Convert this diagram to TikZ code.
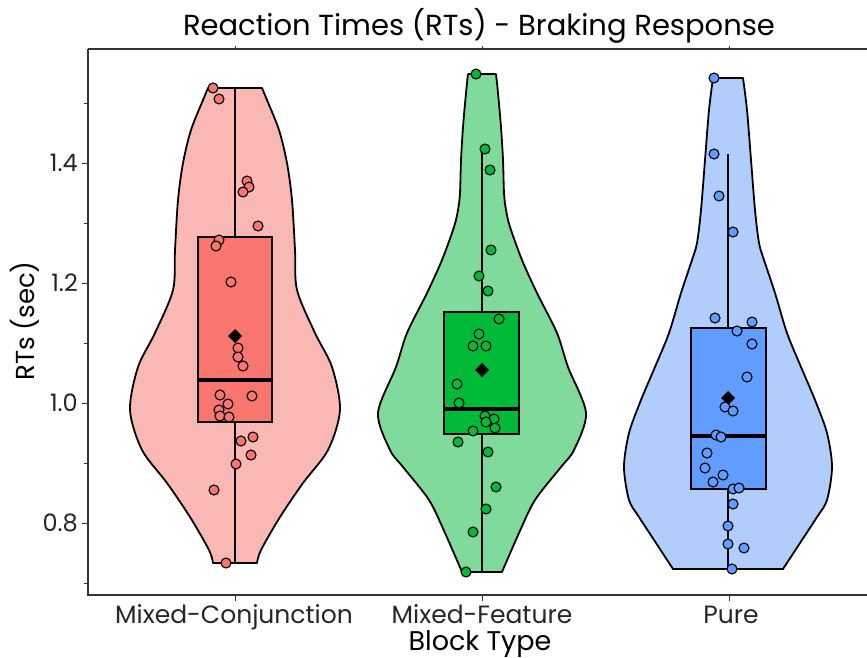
\documentclass[tikz,border=0pt]{standalone}
\usepackage{fontspec}
\setmainfont{Poppins}
\definecolor{redL}{HTML}{F9B8B3}
\definecolor{redD}{HTML}{F8766D}
\definecolor{grnL}{HTML}{80DA9B}
\definecolor{grnD}{HTML}{00BA38}
\definecolor{bluL}{HTML}{B0CDFB}
\definecolor{bluD}{HTML}{619CFF}
\definecolor{axisgray}{HTML}{333333}
\tikzset{
  violin/.style={draw=black, line width=1.8pt, line join=round},
  boxst/.style={draw=black, line width=1.8pt},
  whisk/.style={draw=black, line width=1.8pt},
  medline/.style={draw=black, line width=4pt},
  pt/.style={draw=black, line width=1.1pt},
  meanmk/.style={fill=black},
  axisline/.style={draw=axisgray, line width=1.4pt},
  tickst/.style={draw=axisgray, line width=1pt},
  yticklab/.style={font=\fontsize{24}{26}\selectfont, text=black!85, inner sep=0pt},
  xticklab/.style={font=\fontsize{25}{27}\selectfont, text=black!85, inner sep=0pt, anchor=base},
  axtitle/.style={font=\fontsize{27}{29}\selectfont, inner sep=0pt},
}
\begin{document}
\begin{tikzpicture}[x=1pt,y=-1pt]
\useasboundingbox[fill=white] (0,0) rectangle (867,658);

% ---------- violins ----------
\path[violin, fill=redL] plot[smooth] coordinates {(262,88) (267,100) (279,130) (287,163) (292,200) (295,250) (297,290) (315,333) (332,367) (340,410) (328,450) (303,483) (280,517) (261,550) (257,563)}
  -- plot[smooth] coordinates {(213,563) (209,550) (190,517) (167,483) (142,450) (130,410) (138,367) (155,333) (173,290) (175,250) (178,200) (183,163) (191,130) (203,100) (208,88)} -- cycle;

\path[violin, fill=grnL] plot[smooth] coordinates {(496,74) (498,93) (501,127) (503,160) (504,193) (506,210) (510,227) (522,260) (537,293) (557,333) (568,367) (586,413) (574,450) (561,467) (535,500) (519,533) (502,572)}
  -- plot[smooth] coordinates {(462,572) (445,533) (429,500) (403,467) (390,450) (378,413) (396,367) (407,333) (427,293) (442,260) (454,227) (458,210) (460,193) (461,160) (463,127) (466,93) (468,74)} -- cycle;

\path[violin, fill=bluL] plot[smooth] coordinates {(743,78) (747,110) (751,160) (755,210) (759,243) (764,260) (775,293) (787,333) (801,367) (815,400) (827,433) (832,467) (827,500) (817,517) (800,543) (783,569)}
  -- plot[smooth] coordinates {(673,569) (656,543) (639,517) (629,500) (624,467) (629,433) (641,400) (655,367) (669,333) (681,293) (692,260) (697,243) (701,210) (705,160) (709,110) (713,78)} -- cycle;

% ---------- boxes ----------
\draw[whisk] (235,88) -- (235,563);
\filldraw[boxst, fill=redD] (198,237) rectangle (272,422);
\draw[medline] (198,380) -- (272,380);
\draw[whisk] (482,150) -- (482,572);
\filldraw[boxst, fill=grnD] (444,312) rectangle (519,434);
\draw[medline] (444,409) -- (519,409);
\draw[whisk] (728,154) -- (728,569);
\filldraw[boxst, fill=bluD] (691,328) rectangle (766,489);
\draw[medline] (691,436) -- (766,436);

% ---------- means ----------
\fill[meanmk] (235,329) -- (242,336) -- (235,343) -- (228,336) -- cycle;
\fill[meanmk] (482,363) -- (489,370) -- (482,377) -- (475,370) -- cycle;
\fill[meanmk] (728,391) -- (735,398) -- (728,405) -- (721,398) -- cycle;

% ---------- points ----------
\foreach \x/\y in {213/88, 219/99, 247/181, 249/187, 243/192, 258/226, 219/240, 216/246, 231/282, 238/348, 238/357, 243/366, 220/395, 252/396, 228/404, 219/410, 220/416, 229/417, 241/441, 253/437, 251/455, 236/464, 214/490, 226/563}
  \filldraw[pt, fill=redD] (\x,\y) circle (5pt);
\foreach \x/\y in {476/74, 485/149, 490/170, 491/250, 479/276, 488/291, 499/319, 479/334, 473/346, 486/346, 457/384, 459/403, 485/416, 494/419, 486/422, 473/431, 495/428, 458/442, 488/452, 496/487, 486/509, 473/532, 466/572}
  \filldraw[pt, fill=grnD] (\x,\y) circle (5pt);
\foreach \x/\y in {714/78, 714/154, 719/196, 733/232, 715/318, 752/322, 737/331, 752/344, 747/377, 725/407, 733/411, 716/435, 721/437, 707/453, 705/468, 723/475, 713/482, 733/489, 739/488, 733/504, 728/526, 728/544, 744/548, 732/569}
  \filldraw[pt, fill=bluD] (\x,\y) circle (5pt);

% ---------- axes ----------
\draw[axisline] (88,49) -- (867,49);
\draw[axisline] (88,49) -- (88,595) -- (867,595);
\foreach \y/\lab in {163/1.4, 283/1.2, 403/1.0, 523/0.8}{
  \draw[tickst] (82,\y) -- (88,\y);
  \node[yticklab, anchor=east] (yl\y) at (78,\y) {\lab};
}
\foreach \y in {103,223,343,463,583}
  \draw[tickst, line width=0.6pt] (84,\y) -- (88,\y);
\foreach \x in {235,482,729}{
  \draw[tickst] (\x,595) -- (\x,601);
  \draw[tickst, line width=0.6pt] (\x,49) -- (\x,46);
}
\node[xticklab] (xl1) at (234,623) {Mixed-Conjunction};
\node[xticklab] (xl2) at (482,623) {Mixed-Feature};
\node[xticklab] (xl3) at (731,623) {Pure};

% ---------- titles ----------
\node[axtitle, anchor=base] (xt) at (480,650) {Block Type};
\node[font=\fontsize{26}{28}\selectfont, inner sep=0pt, rotate=90] (yt) at (25,321) {RTs (sec)};
\node[font=\fontsize{29}{32}\selectfont, inner sep=0pt, anchor=base] (title) at (479,36) {Reaction Times (RTs) - Braking Response};
\end{tikzpicture}
\end{document}
